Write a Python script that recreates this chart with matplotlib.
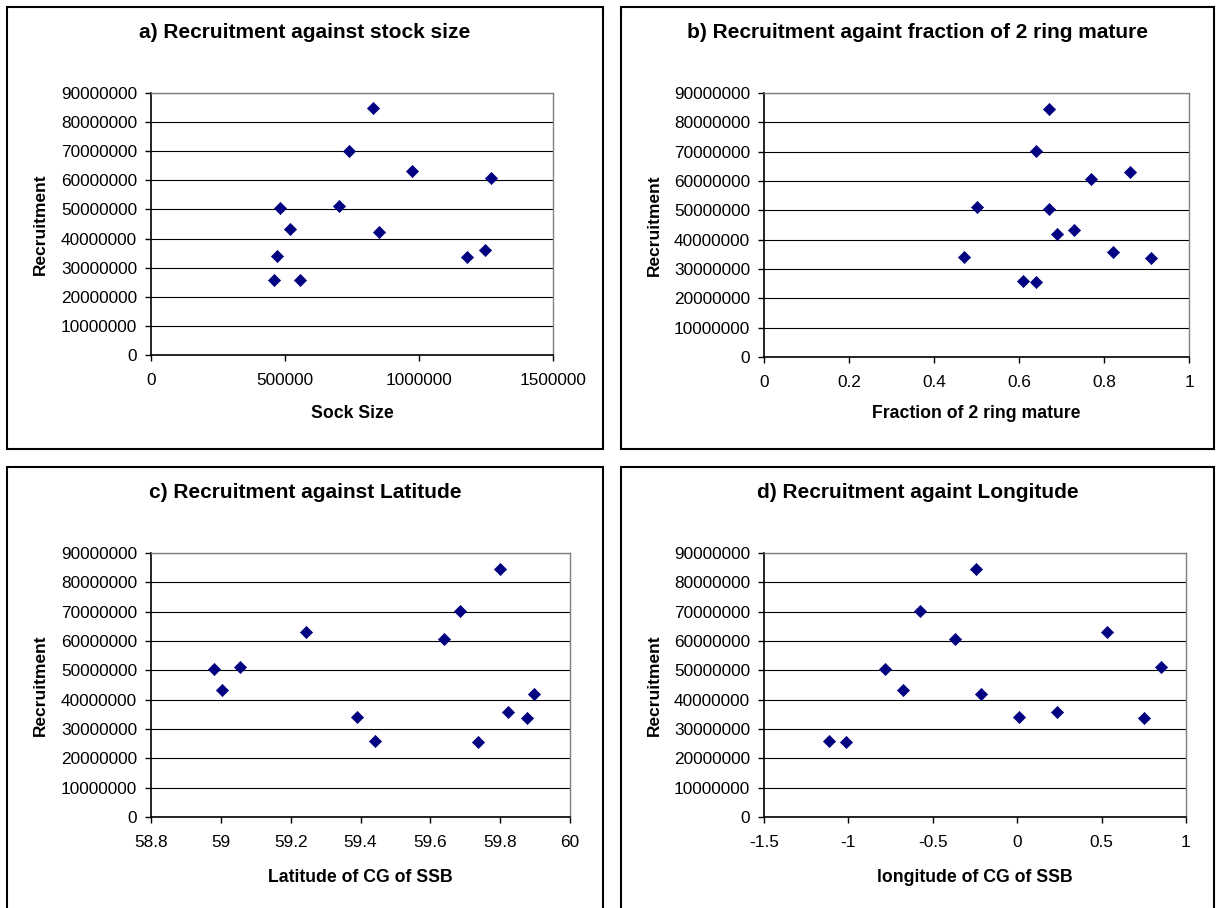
import matplotlib.pyplot as plt
from matplotlib.patches import Rectangle
from matplotlib.ticker import FuncFormatter, MultipleLocator

plt.rcParams['font.family'] = ['Liberation Sans', 'DejaVu Sans']

# Daten (eine Zeile pro Jahr)
recruitment = [84.7e6, 70.1e6, 63.1e6, 60.8e6, 51.3e6, 50.5e6, 43.2e6,
               42.1e6, 35.9e6, 34.0e6, 33.8e6, 25.9e6, 25.6e6]
stock_size = [827000, 737000, 975000, 1270000, 701000, 483000, 519000,
              849000, 1247000, 470000, 1180000, 458000, 555000]
frac_mature = [0.67, 0.64, 0.86, 0.77, 0.50, 0.67, 0.73,
               0.69, 0.82, 0.47, 0.91, 0.61, 0.64]
latitude = [59.80, 59.686, 59.244, 59.640, 59.054, 58.981, 59.004,
            59.896, 59.822, 59.390, 59.876, 59.441, 59.736]
longitude = [-0.245, -0.573, 0.532, -0.366, 0.852, -0.781, -0.676,
             -0.215, 0.235, 0.010, 0.749, -1.117, -1.014]

titles = ["a) Recruitment against stock size",
          "b) Recruitment againt fraction of 2 ring mature",
          "c) Recruitment against Latitude",
          "d) Recruitment againt Longitude"]
xlabels = ["Sock Size", "Fraction of 2 ring mature",
           "Latitude of CG of SSB", "longitude of CG of SSB"]
xdata = [stock_size, frac_mature, latitude, longitude]
xlims = [(0, 1500000), (0, 1), (58.8, 60), (-1.5, 1)]
xsteps = [500000, 0.2, 0.2, 0.5]

W, H = 1219, 908
fig = plt.figure(figsize=(W / 100, H / 100), dpi=100)

def fx(px):
    return px / W

def fy(py):
    return 1 - py / H

# Rahmen der Diagramme (Pixel: links, oben, rechts, unten)
boxes = [(7, 7, 603, 449), (621, 7, 1214, 449),
         (7, 467, 603, 930), (621, 467, 1214, 930)]
# Plotflaechen (Pixel)
areas = [(151, 93, 553, 355), (764, 93, 1189, 357),
         (151, 553, 570, 817), (764, 553, 1186, 817)]
title_y = [33, 33, 493, 493]
xlabel_y = [414, 414, 877, 877]

def tick_fmt(v, pos):
    if abs(v - round(v)) < 1e-9:
        return "%d" % round(v)
    return "%g" % v

for i in range(4):
    bl, bt, br, bb = boxes[i]
    fig.patches.append(Rectangle((fx(bl), fy(bb)), fx(br - bl), (bb - bt) / H,
                                 transform=fig.transFigure, fill=False,
                                 edgecolor="black", linewidth=1.5))
    l, t, r, b = areas[i]
    ax = fig.add_axes([fx(l), fy(b), fx(r - l), (b - t) / H])
    ax.scatter(xdata[i], recruitment, marker="D", s=38, color="#000080",
               edgecolors="#000080", linewidths=0.5, zorder=3)
    ax.set_xlim(*xlims[i])
    ax.set_ylim(0, 90000000)
    ax.xaxis.set_major_locator(MultipleLocator(xsteps[i]))
    ax.yaxis.set_major_locator(MultipleLocator(10000000))
    ax.xaxis.set_major_formatter(FuncFormatter(tick_fmt))
    ax.yaxis.set_major_formatter(FuncFormatter(tick_fmt))
    ax.tick_params(labelsize=12.4, direction="out", length=4, width=1,
                   color="black", pad=6)
    ax.tick_params(axis="x", pad=9)
    ax.grid(axis="y", color="black", linewidth=0.8)
    ax.set_axisbelow(True)
    for side in ["top", "right"]:
        ax.spines[side].set_color("#808080")
        ax.spines[side].set_linewidth(1)
    for side in ["left", "bottom"]:
        ax.spines[side].set_color("black")
        ax.spines[side].set_linewidth(1.2)

    fig.text(fx((bl + br) / 2), fy(title_y[i]), titles[i], ha="center",
             va="center", fontsize=15, fontweight="bold")
    fig.text(fx((l + r) / 2), fy(xlabel_y[i]), xlabels[i], ha="center",
             va="center", fontsize=12.7, fontweight="bold")
    fig.text(fx(bl + 33), fy((t + b) / 2), "Recruitment", ha="center",
             va="center", rotation=90, fontsize=12.5, fontweight="bold")

fig.savefig("out.png", dpi=100)
